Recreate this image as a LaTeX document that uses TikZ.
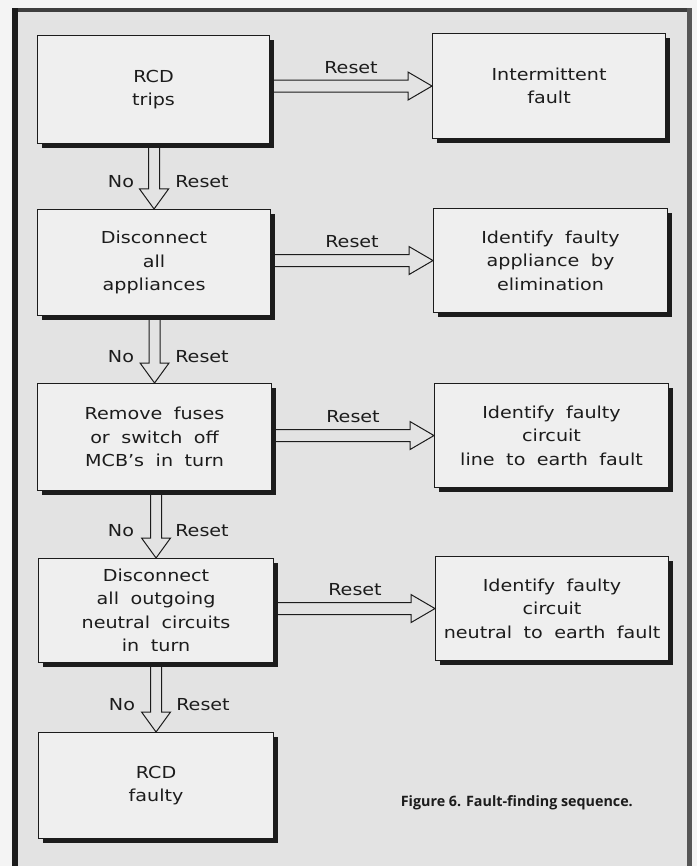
\documentclass[tikz,border=0pt]{standalone}
\usepackage{fontspec}
\setmainfont{DejaVu Sans}[FakeStretch=1.16]
\newfontfamily\capfont{Open Sans}
\usetikzlibrary{calc,shadows}
\definecolor{paper}{HTML}{F4F4F4}
\definecolor{page}{HTML}{E3E3E3}
\definecolor{boxfill}{HTML}{EFEFEF}
\definecolor{ink}{HTML}{1C1C1C}
\newcommand\myboxfont{\fontsize{16.5}{23.5}\selectfont\spaceskip 11.5pt plus 1pt minus 1pt\relax}
\tikzset{
  x=1pt, y=-1pt,
  fbox/.style={draw=ink, line width=1.1pt, fill=boxfill, anchor=north west,
    align=center, inner sep=0pt, text=ink,
    font=\myboxfont,
    drop shadow={shadow xshift=4pt, shadow yshift=-4pt, fill=ink, opacity=1}},
  lbl/.style={text=ink, inner sep=0pt, font=\fontsize{16.5}{20}\selectfont},
  harr/.style={draw=ink, line width=1pt,
    to path={let \p1=(\tikztostart), \p2=(\tikztotarget) in
      (\x1,\y2+6pt) -- (\x2-24pt,\y2+6pt) -- (\x2-24pt,\y2+14pt) -- (\x2,\y2)
      -- (\x2-24pt,\y2-14pt) -- (\x2-24pt,\y2-6pt) -- (\x1,\y2-6pt)}},
  varr/.style={draw=ink, line width=1pt,
    to path={let \p1=(\tikztostart), \p2=(\tikztotarget) in
      (\x2-5.5pt,\y1) -- (\x2-5.5pt,\y2+20pt) -- (\x2-14.5pt,\y2+20pt) -- (\x2,\y2)
      -- (\x2+14.5pt,\y2+20pt) -- (\x2+5.5pt,\y2+20pt) -- (\x2+5.5pt,\y1)}},
}
\begin{document}
\begin{tikzpicture}
% page and frame
\fill[paper] (0,0) rectangle (697,866);
\useasboundingbox (0,0) rectangle (697,866);
\fill[page] (16,10) rectangle (689,866);
\fill[ink!85] (12,8) rectangle (692,12);
\fill[ink] (12,8) rectangle (18,866);
\fill[ink!75] (687,8) rectangle (692,866);

% left column
\node[fbox, minimum width=232pt, minimum height=108pt] (b1) at (37,35) {RCD\\trips};
\node[fbox, minimum width=233pt, minimum height=106pt] (b2) at (37,209) {Disconnect\\all\\appliances};
\node[fbox, minimum width=234pt, minimum height=107pt] (b3) at (37,383) {Remove fuses\\or switch off\\MCB's in turn};
\node[fbox, minimum width=235pt, minimum height=104pt] (b4) at (38,558) {Disconnect\\all outgoing\\neutral circuits\\in turn};
\node[fbox, minimum width=235pt, minimum height=106pt] (b5) at (38,732) {RCD\\faulty};

% right column
\node[fbox, minimum width=233pt, minimum height=105pt] (r1) at (432,33) {Intermittent\\fault};
\node[fbox, minimum width=234pt, minimum height=104pt] (r2) at (433,208) {Identify faulty\\appliance by\\elimination};
\node[fbox, minimum width=234pt, minimum height=104pt] (r3) at (434,383) {Identify faulty\\circuit\\line to earth fault};
\node[fbox, minimum width=233pt, minimum height=104pt] (r4) at (435,556) {Identify faulty\\circuit\\neutral to earth fault};

% horizontal arrows
\draw[harr] ($(b1.east)+(4,0)$) to (r1.west);
\draw[harr] ($(b2.east)+(4,0)$) to (r2.west);
\draw[harr] ($(b3.east)+(4,0)$) to (r3.west);
\draw[harr] ($(b4.east)+(4,0)$) to (r4.west);
\node[lbl] (lr1) at (351,68) {Reset};
\node[lbl] (lr2) at (352,242) {Reset};
\node[lbl] (lr3) at (353,417) {Reset};
\node[lbl] (lr4) at (355,590) {Reset};

% vertical arrows
\draw[varr] ($(b1.south)+(0,4)$) to (b2.north);
\draw[varr] ($(b2.south)+(0,4)$) to (b3.north);
\draw[varr] ($(b3.south)+(0,4)$) to (b4.north);
\draw[varr] ($(b4.south)+(0,4)$) to (b5.north);
\node[lbl] (n1) at (121,182) {No};
\node[lbl] (s1) at (202,182) {Reset};
\node[lbl] (n2) at (121,357) {No};
\node[lbl] (s2) at (202,357) {Reset};
\node[lbl] (n3) at (121,531) {No};
\node[lbl] (s3) at (202,531) {Reset};
\node[lbl] (n4) at (122,705) {No};
\node[lbl] (s4) at (203,705) {Reset};

% caption
\node[anchor=east, inner sep=0pt, text=ink, font=\capfont\bfseries\fontsize{14.3}{17}\selectfont] (cap) at (633,803) {Figure 6. Fault-finding sequence.};
\end{tikzpicture}
\end{document}
